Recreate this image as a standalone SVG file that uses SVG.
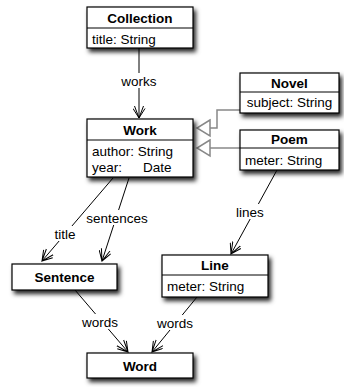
<svg xmlns="http://www.w3.org/2000/svg" width="344" height="387" viewBox="0 0 344 387">
<style>
.box{fill:#fff;stroke:#000;stroke-width:1.2;filter:url(#sh)}
.div{stroke:#000;stroke-width:1}
.t{font-family:"Liberation Sans",Arial,sans-serif;font-size:13.5px;font-weight:bold;text-anchor:middle;fill:#000}
.a{font-family:"Liberation Sans",Arial,sans-serif;font-size:13.5px;fill:#000}
.lbl{font-family:"Liberation Sans",Arial,sans-serif;font-size:13.5px;text-anchor:middle;fill:#000}
.lb{fill:#fff}
.c{stroke:#000;stroke-width:1;fill:none;marker-end:url(#arr)}
.g{stroke:#888;stroke-width:1.5;fill:none}
.tri{fill:#fff;stroke:#888;stroke-width:1.5}
</style>
<defs>
<filter id="sh" x="-20%" y="-20%" width="150%" height="170%">
<feDropShadow dx="2.5" dy="3.5" stdDeviation="2.2" flood-color="#000" flood-opacity="0.85"/>
</filter>
<marker id="arr" viewBox="0 0 13 13" refX="12" refY="6.5" markerWidth="13" markerHeight="13" markerUnits="userSpaceOnUse" orient="auto">
<path d="M0,2 L12,6.5 L0,11 M2.5,0.5 L12,6.5 L2.5,12.5" fill="none" stroke="#000" stroke-width="1"/>
</marker>
</defs>

<g id="connectors">
<line class="c" x1="139" y1="48" x2="139" y2="118"/>
<rect class="lb" x="120" y="73" width="38" height="15"/>
<text class="lbl" x="139" y="86">works</text>

<polyline class="g" points="240,110 217,110 217,128 210,128"/>
<polygon class="tri" points="210,120 197,128 210,136"/>
<line class="g" x1="240" y1="148" x2="210" y2="148"/>
<polygon class="tri" points="210,140 197,148 210,156"/>

<line class="c" x1="113" y1="178" x2="42" y2="261"/>
<rect class="lb" x="52" y="226" width="26" height="15"/>
<text class="lbl" x="65" y="239">title</text>

<line class="c" x1="129" y1="178" x2="102" y2="261"/>
<rect class="lb" x="86" y="210" width="62" height="15"/>
<text class="lbl" x="117" y="223">sentences</text>

<line class="c" x1="277" y1="170" x2="231" y2="254"/>
<rect class="lb" x="235" y="204" width="31" height="15"/>
<text class="lbl" x="250" y="217">lines</text>

<line class="c" x1="75" y1="290" x2="128" y2="352"/>
<rect class="lb" x="81" y="314" width="39" height="15"/>
<text class="lbl" x="100" y="327">words</text>

<line class="c" x1="197" y1="297" x2="152" y2="352"/>
<rect class="lb" x="156" y="315" width="39" height="15"/>
<text class="lbl" x="175" y="328">words</text>
</g>

<g id="collection">
<rect class="box" x="87" y="7" width="106" height="41"/>
<line class="div" x1="87" y1="28" x2="193" y2="28"/>
<text class="t" x="140" y="22.5">Collection</text>
<text class="a" x="92" y="44">title: String</text>
</g>

<g id="novel">
<rect class="box" x="240" y="73" width="99" height="40"/>
<line class="div" x1="240" y1="92" x2="339" y2="92"/>
<text class="t" x="289.5" y="87.5">Novel</text>
<text class="a" x="289.5" y="107" text-anchor="middle">subject: String</text>
</g>

<g id="work">
<rect class="box" x="87" y="119" width="106" height="58"/>
<line class="div" x1="87" y1="140" x2="193" y2="140"/>
<text class="t" x="140" y="134.5">Work</text>
<text class="a" x="92" y="156">author: String</text>
<text class="a" x="92" y="172">year:</text>
<text class="a" x="143" y="172">Date</text>
</g>

<g id="poem">
<rect class="box" x="240" y="130" width="99" height="40"/>
<line class="div" x1="240" y1="148" x2="339" y2="148"/>
<text class="t" x="289.5" y="143.5">Poem</text>
<text class="a" x="245" y="165">meter: String</text>
</g>

<g id="sentence">
<rect class="box" x="12" y="264" width="105" height="26"/>
<text class="t" x="64.5" y="282">Sentence</text>
</g>

<g id="line">
<rect class="box" x="162" y="255" width="106" height="42"/>
<line class="div" x1="162" y1="275" x2="268" y2="275"/>
<text class="t" x="215" y="270">Line</text>
<text class="a" x="167" y="291">meter:  String</text>
</g>

<g id="word">
<rect class="box" x="87" y="353" width="106" height="25"/>
<text class="t" x="140" y="370.5">Word</text>
</g>
</svg>
